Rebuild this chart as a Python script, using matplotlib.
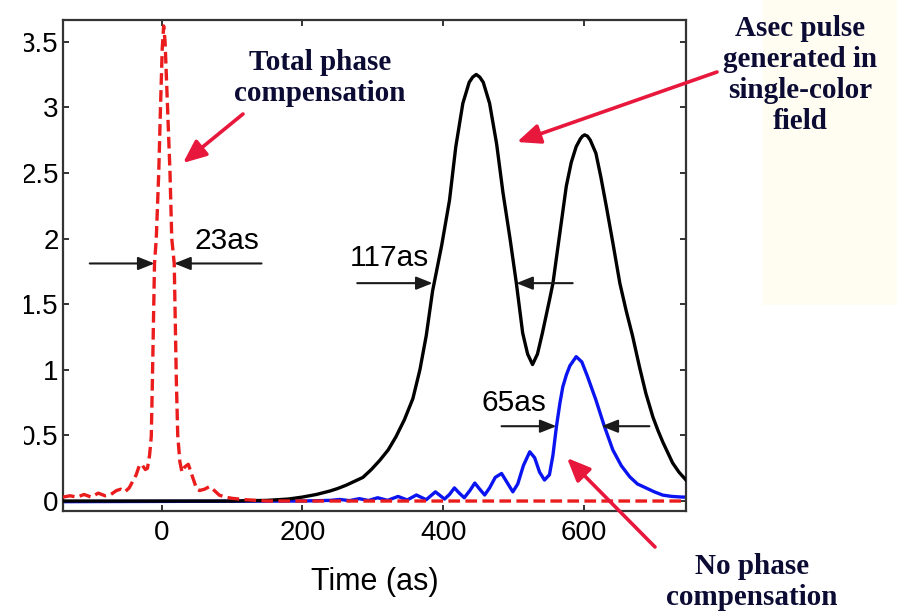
import matplotlib
matplotlib.use("Agg")
import matplotlib.pyplot as plt
from matplotlib.patches import Rectangle, FancyArrowPatch

# ---------------- data ----------------
t_total = [-140, -130, -120, -110, -100, -90, -80, -72, -64, -58, -52, -46, -41, -36, -31,
           -27, -23, -20, -17, -14.6, -13, -10, -7.5, -4, -1.5, 1, 3, 5, 8.5, 12, 14.5,
           18, 21, 23, 26, 29, 33, 38, 43, 50, 54, 61, 68, 75, 82, 90, 101, 110, 120,
           135, 150, 745]
y_total = [0.03, 0.04, 0.03, 0.05, 0.03, 0.06, 0.04, 0.05, 0.08, 0.09, 0.07, 0.10, 0.15, 0.20, 0.28,
           0.27, 0.24, 0.25, 0.35, 0.49, 0.92, 1.81, 2.0, 2.5, 3.0, 3.45, 3.62, 3.5, 3.0, 2.5, 2.0,
           1.81, 0.92, 0.5, 0.30, 0.22, 0.26, 0.28, 0.20, 0.09, 0.08, 0.09, 0.11, 0.08, 0.045, 0.03, 0.02,
           0.015, 0.01, 0.005, 0.0, 0.0]

t_single = [-140, 100, 150, 180, 200, 220, 239, 250, 262, 274, 286, 298, 310, 322, 333, 345,
            357, 367, 376, 385, 398, 409, 418, 428, 437, 442, 447, 452, 457, 466, 476,
            485, 495, 504, 513, 520, 527, 534, 541, 551, 556, 566, 575, 582, 589, 595,
            598, 601, 605, 609, 617, 624, 632, 641, 651, 660, 669, 679, 688, 698, 705,
            712, 719, 726, 735, 745]
y_single = [0.0, 0.0, 0.005, 0.015, 0.03, 0.05, 0.076, 0.095, 0.12, 0.15, 0.18, 0.24, 0.31, 0.39, 0.49, 0.62,
            0.78, 1.0, 1.26, 1.6, 1.95, 2.29, 2.7, 3.03, 3.19, 3.23, 3.25, 3.23, 3.19, 3.03, 2.72,
            2.35, 2.0, 1.66, 1.28, 1.12, 1.04, 1.12, 1.28, 1.53, 1.66, 2.05, 2.40, 2.58, 2.70, 2.76,
            2.78, 2.79, 2.78, 2.75, 2.65, 2.47, 2.24, 1.97, 1.66, 1.45, 1.26, 1.02, 0.82, 0.64, 0.54,
            0.45, 0.37, 0.29, 0.22, 0.16]

t_none = [-140, 200, 240, 253, 267, 281, 294, 307, 321, 336, 349, 362, 376, 389, 402, 409,
          416, 423, 430, 438, 445, 452, 459, 466, 474, 483, 491, 499, 506, 514, 523,
          530, 537, 544, 551, 556, 561, 566, 570, 575, 580, 589, 597, 605, 617, 629,
          641, 653, 665, 676, 688, 700, 712, 725, 740, 745]
y_none = [-0.005, 0.0, 0.005, 0.012, 0.003, 0.018, 0.004, 0.025, 0.005, 0.035, 0.008, 0.046, 0.01, 0.07, 0.015, 0.05,
          0.10, 0.06, 0.025, 0.08, 0.137, 0.09, 0.046, 0.10, 0.18, 0.21, 0.14, 0.07, 0.13, 0.27, 0.375,
          0.33, 0.22, 0.16, 0.20, 0.35, 0.57, 0.75, 0.87, 0.96, 1.03, 1.10, 1.06, 0.95, 0.77, 0.57,
          0.39, 0.27, 0.185, 0.13, 0.10, 0.07, 0.045, 0.035, 0.03, 0.03]

x_ticks = [0, 200, 400, 600]
y_ticks = [0, 0.5, 1, 1.5, 2, 2.5, 3, 3.5]
y_tick_labels = ["0", "0.5", "1", "1.5", "2", "2.5", "3", "3.5"]

# ---------------- figure ----------------
W, H = 897, 616
fig = plt.figure(figsize=(W / 100, H / 100), dpi=100)
fig.patch.set_facecolor("white")

def fp(x, y):
    return (x / W, 1 - y / H)

# very faint yellow backdrop at the right
fig.patches.append(Rectangle(fp(763, 305), (W - 763) / W, 305 / H, transform=fig.transFigure,
                             facecolor="#fffdf1", edgecolor="none", zorder=0))

ax = fig.add_axes([63 / W, 1 - 511 / H, 623 / W, 491 / H])
ax.set_facecolor("white")

ax.plot(t_none, y_none, color="#0a14f0", lw=2.4, zorder=2)
ax.plot(t_single, y_single, color="black", lw=2.4, zorder=3)
ax.plot(t_total, y_total, color="#ea1c1c", lw=2.4, dashes=(3.5, 1.6), zorder=4)

ax.set_xlim(-140, 745)
ax.set_ylim(-0.076, 3.665)
ax.set_xticks(x_ticks)
ax.set_xticklabels([str(v) for v in x_ticks])
ax.set_yticks(y_ticks)
ax.set_yticklabels(y_tick_labels)

sans = "Liberation Sans"
serif = "Liberation Serif"
for s in ax.spines.values():
    s.set_linewidth(1.6)
    s.set_color("#333333")
ax.tick_params(direction="in", length=4.5, width=1.4, color="#333333", top=True, right=True,
               labelsize=20)
ax.tick_params(axis="x", pad=6.5)
ax.tick_params(axis="y", pad=3)
for lab in ax.get_xticklabels() + ax.get_yticklabels():
    lab.set_fontfamily(sans)

ax.set_xlabel("Time (as)", fontsize=22, fontfamily=sans)
ax.xaxis.label.set_va("center")
ax.xaxis.set_label_coords(0.5, (511 - 582) / 491)

# FWHM markers
arr = dict(arrowstyle="-|>,head_length=0.55,head_width=0.22", color="#1a1a1a", lw=1.5,
           mutation_scale=18, shrinkA=0, shrinkB=0)
for (x0, x1, yy) in [(-102, -10, 1.81), (142, 18, 1.81),
                     (278, 385, 1.66), (584, 504, 1.66),
                     (483, 561, 0.57), (693, 625, 0.57)]:
    ax.annotate("", xy=(x1, yy), xytext=(x0, yy), arrowprops=arr, zorder=6)

ax.text(47, 1.98, "23as", fontsize=21.5, fontfamily=sans, ha="left", va="center")
ax.text(267, 1.85, "117as", fontsize=21.5, fontfamily=sans, ha="left", va="center")
ax.text(455, 0.75, "65as", fontsize=21.5, fontfamily=sans, ha="left", va="center")

# callouts
navy = "#0b0b33"
red = "#e8173c"
fig.text(*fp(320, 78), "Total phase\ncompensation", fontsize=21, fontfamily=serif,
         fontweight="bold", color=navy, ha="center", va="center", multialignment="center",
         linespacing=1.15)
fig.text(*fp(800, 75), "Asec pulse\ngenerated in\nsingle-color\nfield", fontsize=21,
         fontfamily=serif, fontweight="bold", color=navy, ha="center", va="center",
         multialignment="center", linespacing=1.2)
fig.text(*fp(752, 582), "No phase\ncompensation", fontsize=21, fontfamily=serif,
         fontweight="bold", color=navy, ha="center", va="center", multialignment="center",
         linespacing=1.15)

carr = dict(arrowstyle="-|>,head_length=0.7,head_width=0.3", color=red, lw=2.6,
            mutation_scale=20, shrinkA=0, shrinkB=0)
for tail, head in [((243, 114), (183, 163)), ((717, 72), (517, 142)), ((655, 547), (567, 458))]:
    fig.add_artist(FancyArrowPatch(fp(*tail), fp(*head), transform=fig.transFigure,
                                   zorder=10, **carr))

# left edge of the picture is cut off
fig.patches.append(Rectangle((0, 0), 24 / W, 1, transform=fig.transFigure,
                             facecolor="white", edgecolor="none", zorder=20))

fig.savefig("out.png", dpi=100)
